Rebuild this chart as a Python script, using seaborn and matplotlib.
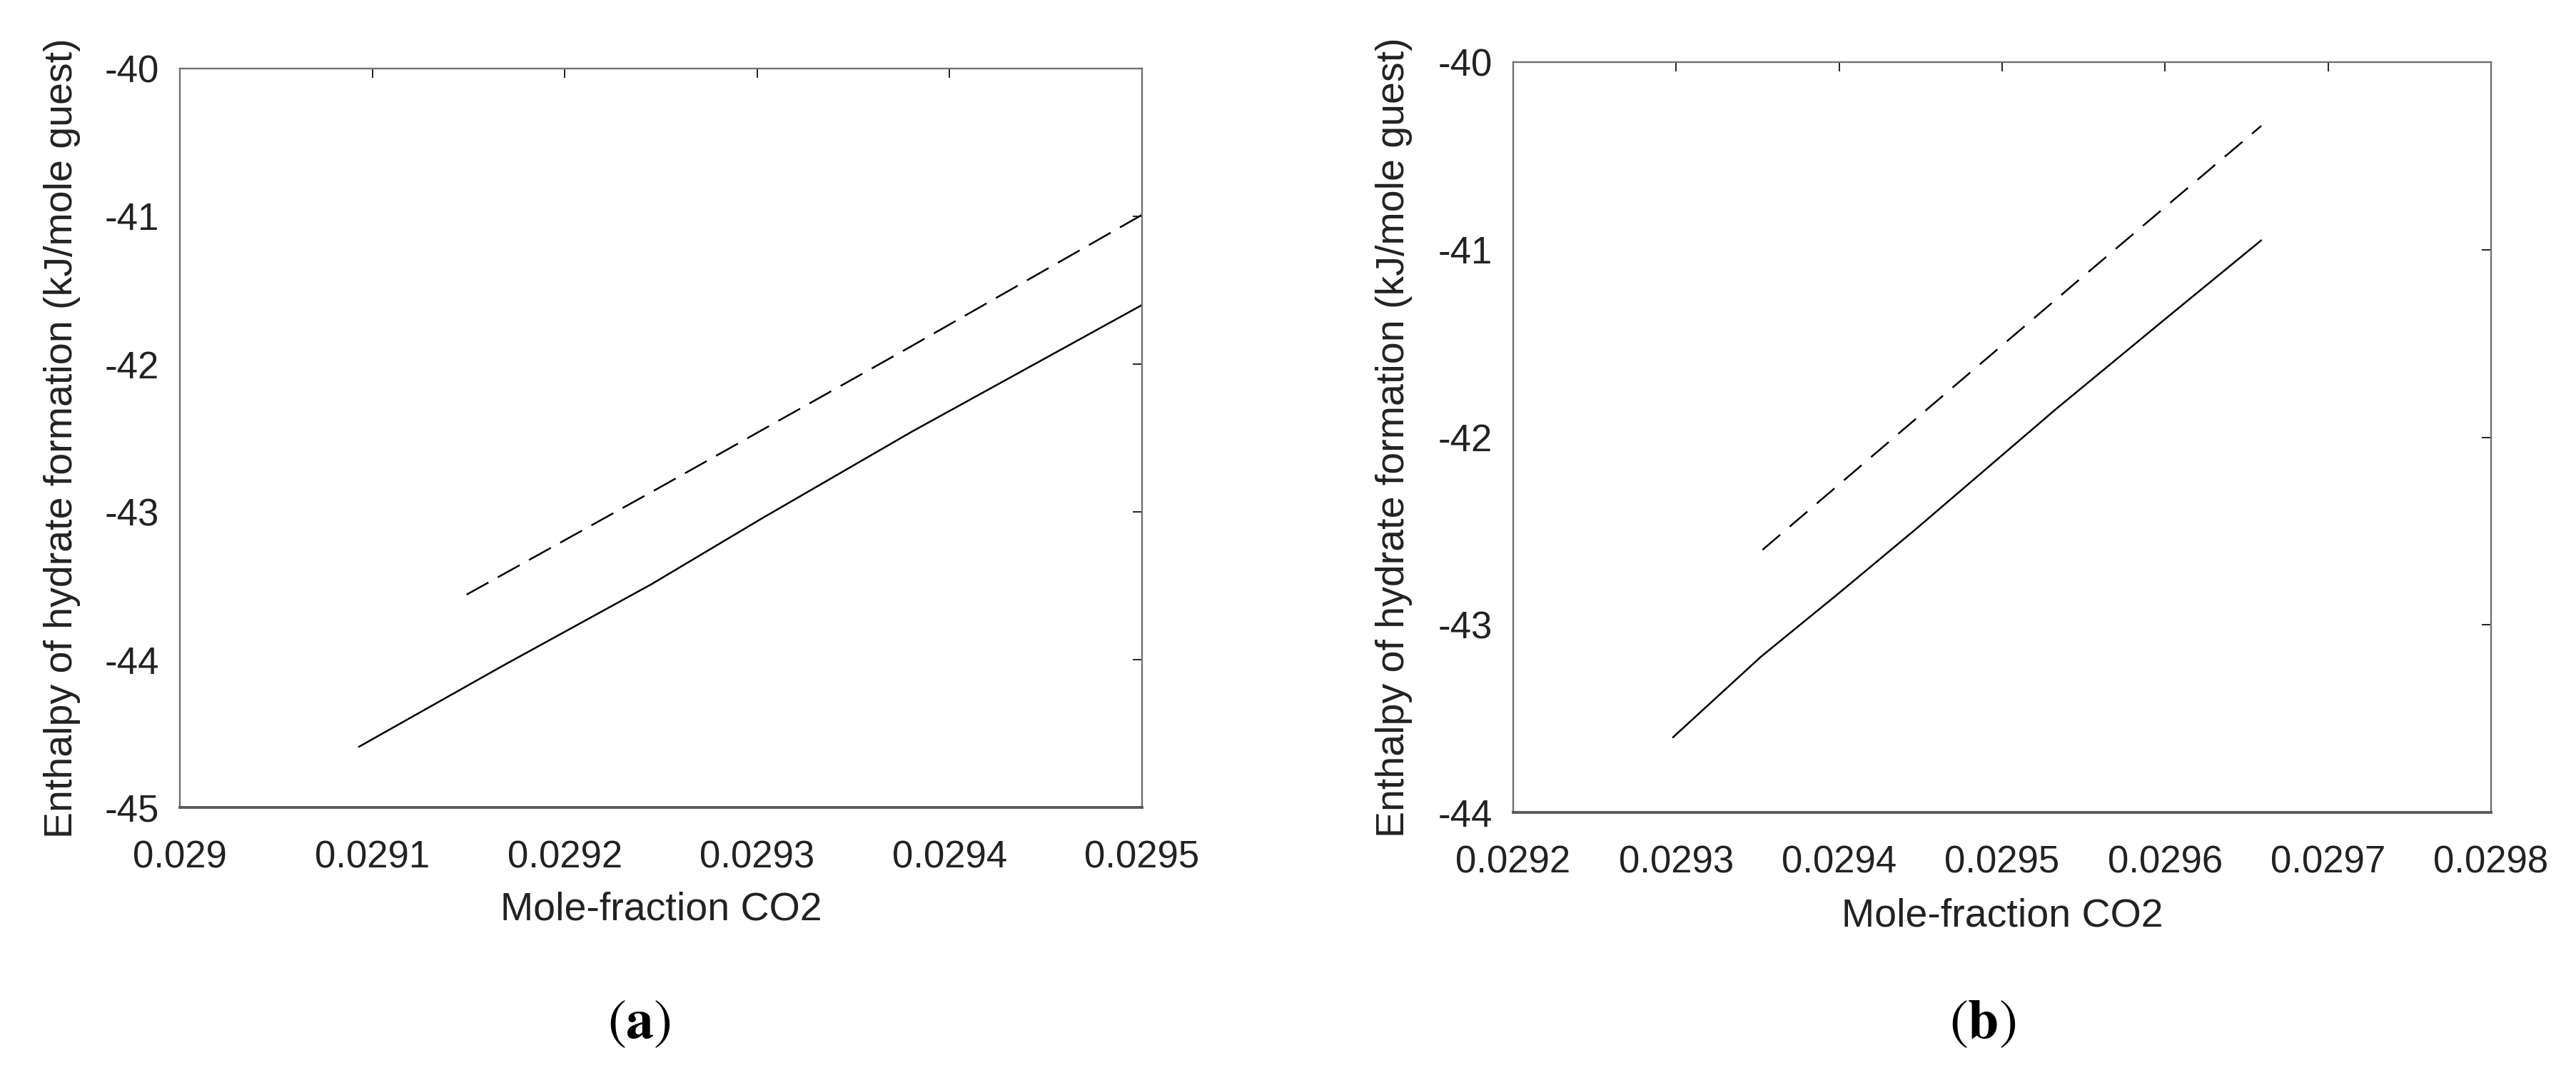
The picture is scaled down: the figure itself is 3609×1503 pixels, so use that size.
import pandas as pd
import numpy as np
import matplotlib
matplotlib.use("Agg")
import matplotlib.pyplot as plt
import seaborn as sns

sns.set_style("white")
plt.rcParams['font.family'] = ['Liberation Sans', 'DejaVu Sans']
plt.rcParams['mathtext.fontset'] = 'stix'

# panel (a) values
a_solid_x = [0.029093, 0.029168, 0.029245, 0.029303, 0.029380, 0.029500]
a_solid_y = [-44.59, -44.04, -43.49, -43.04, -42.46, -41.60]
a_dash_x = [0.029149, 0.029250, 0.029380, 0.029500]
a_dash_y = [-43.56, -42.83, -41.88, -40.99]

# panel (b)
b_solid_x = [0.029298, 0.029352, 0.029400, 0.029447, 0.029533, 0.029600, 0.029659]
b_solid_y = [-43.60, -43.17, -42.83, -42.49, -41.85, -41.37, -40.95]
b_dash_x = [0.029353, 0.029450, 0.029550, 0.029659]
b_dash_y = [-42.60, -41.88, -41.14, -40.34]

a_xticks = [0.029, 0.0291, 0.0292, 0.0293, 0.0294, 0.0295]
a_yticks = [-45, -44, -43, -42, -41, -40]
b_xticks = [0.0292, 0.0293, 0.0294, 0.0295, 0.0296, 0.0297, 0.0298]
b_yticks = [-44, -43, -42, -41, -40]


def make_df(sx, sy, dx, dy):
    df = pd.DataFrame({"x": sx + dx, "y": sy + dy,
                       "kind": ["solid"] * len(sx) + ["dashed"] * len(dx)})
    return df


fig = plt.figure(figsize=(36.09, 15.03), dpi=100)
ax1 = fig.add_axes([252 / 3609, 1 - 1131 / 1503, 1348 / 3609, 1035 / 1503])
ax2 = fig.add_axes([2120 / 3609, 1 - 1138 / 1503, 1370 / 3609, 1051 / 1503])

panels = [
    (ax1, make_df(a_solid_x, a_solid_y, a_dash_x, a_dash_y), a_xticks, a_yticks, (14, 6), "(\\mathbf{a})", 0.248),
    (ax2, make_df(b_solid_x, b_solid_y, b_dash_x, b_dash_y), b_xticks, b_yticks, (13, 7), "(\\mathbf{b})", 0.7695),
]

for ax, df, xt, yt, dash, tag, tx in panels:
    sns.lineplot(data=df, x="x", y="y", style="kind", style_order=["solid", "dashed"],
                 dashes={"solid": "", "dashed": dash}, color="black",
                 linewidth=1.8, sort=False, estimator=None, legend=False, ax=ax)
    ax.set_xlim(xt[0], xt[-1])
    ax.set_ylim(yt[0], yt[-1])
    ax.set_xticks(xt)
    ax.set_xticklabels([f"{v:g}" for v in xt])
    ax.set_yticks(yt)
    ax.set_yticklabels([str(v) for v in yt])
    ax.tick_params(direction="in", length=9.5, width=1.4, color="#222222",
                   labelcolor="#222222", labelsize=38, top=True, right=True)
    ax.tick_params(axis="x", pad=33)
    ax.tick_params(axis="y", pad=21)
    for sp in ax.spines.values():
        sp.set_color("#707070")
        sp.set_linewidth(1.7)
    ax.spines["bottom"].set_linewidth(2.8)
    ax.spines["bottom"].set_color("#5a5a5a")
    ax.set_xlabel("Mole-fraction CO2", fontsize=40, color="#222222")
    ax.set_ylabel("Enthalpy of hydrate formation (kJ/mole guest)", fontsize=40, color="#222222")
    ax.yaxis.set_label_coords(-0.103, 0.5)
    ax.xaxis.set_label_coords(0.5, -0.114)
    fig.text(tx, 0.046, "$" + tag + "$", fontsize=56, ha="center", va="center", color="black")

fig.savefig("out.png", dpi=100)
